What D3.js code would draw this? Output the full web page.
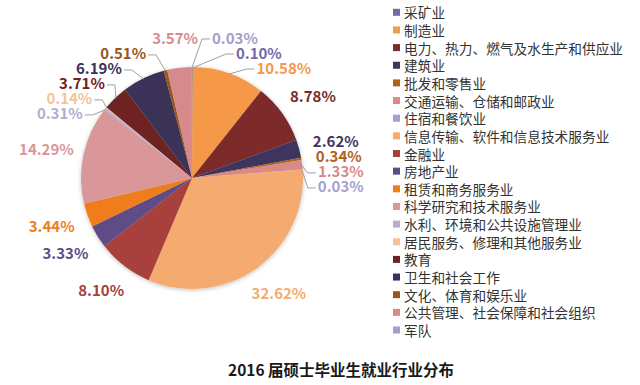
<!DOCTYPE html>
<html lang="zh">
<head>
<meta charset="UTF-8">
<title>2016 届硕士毕业生就业行业分布</title>
<script src="https://d3js.org/d3.v7.min.js"></script>
<style>
  html, body { margin: 0; padding: 0; background: #fff; }
  svg { display: block; font-family: "Noto Sans CJK SC", "Noto Sans", sans-serif; }
  .legend text { font-size: 13.7px; fill: #333; }
  .lbl { font-size: 15px; font-weight: bold; }
  .lead { fill: none; stroke: #a0a0a0; stroke-width: 1; }
</style>
</head>
<body>
<script>
// 行业分类（图例顺序 = 扇区顺时针顺序，从12点方向开始）
var industries = [
  "采矿业", "制造业", "电力、热力、燃气及水生产和供应业", "建筑业", "批发和零售业",
  "交通运输、仓储和邮政业", "住宿和餐饮业", "信息传输、软件和信息技术服务业", "金融业", "房地产业",
  "租赁和商务服务业", "科学研究和技术服务业", "水利、环境和公共设施管理业", "居民服务、修理和其他服务业", "教育",
  "卫生和社会工作", "文化、体育和娱乐业", "公共管理、社会保障和社会组织", "军队"
];
var shares = [0.10, 10.58, 8.78, 2.62, 0.34, 1.33, 0.03, 32.62, 8.10, 3.33,
              3.44, 14.29, 0.31, 0.14, 3.71, 6.19, 0.51, 3.57, 0.03];
var colors = ["#7868a6", "#f5994a", "#7b2b2a", "#3e3660", "#b0621c",
              "#d98a86", "#a99fcb", "#f5ab70", "#a8403c", "#5e4c86",
              "#f07d1b", "#d9979a", "#b4acd2", "#f3c49a", "#6e2323",
              "#3a3258", "#9a561a", "#d68a8c", "#a69ec6"];
var title = "2016 届硕士毕业生就业行业分布";

var width = 640, height = 385;
var cx = 192, cy = 178, r = 111;

var svg = d3.select("body").append("svg")
    .attr("width", width)
    .attr("height", height);

var defs = svg.append("defs");
var f = defs.append("filter").attr("id", "shadow")
    .attr("x", "-10%").attr("y", "-10%").attr("width", "120%").attr("height", "120%");
f.append("feDropShadow").attr("dx", 0).attr("dy", 1).attr("stdDeviation", 2)
    .attr("flood-color", "#000").attr("flood-opacity", 0.25);

var data = industries.map(function(name, i) {
    return { name: name, v: shares[i], color: colors[i] };
});

var pie = d3.pie().sort(null).value(function(d) { return d.v; });
var arc = d3.arc().innerRadius(0).outerRadius(r);
var arcs = pie(data);

var g = svg.append("g").attr("transform", "translate(" + cx + "," + cy + ")");
g.append("g").attr("filter", "url(#shadow)")
  .selectAll("path")
  .data(arcs)
  .enter().append("path")
    .attr("d", arc)
    .attr("fill", function(d) { return d.data.color; });

// 数据标签：按角度放在椭圆上，重叠时向下推并加引导线
var Rx = r + 38, Ry = r + 30, gap = 15, topY = 37;
var labels = arcs.map(function(d) {
    var a = (d.startAngle + d.endAngle) / 2;
    var right = a < Math.PI || a > 2 * Math.PI - 0.03;
    return {
        d: d, a: a, right: right,
        key: right ? (a > Math.PI ? a - 2 * Math.PI : a) : -a,
        x0: Math.sin(a) * Rx, y0: -Math.cos(a) * Ry,
        text: d.data.v.toFixed(2) + "%"
    };
});

[true, false].forEach(function(side) {
    var list = labels.filter(function(l) { return l.right === side; })
        .sort(function(a, b) { return a.key - b.key; });
    var prev = -Infinity;
    list.forEach(function(l) {
        l.y = Math.max(l.y0, topY - cy, prev + gap);
        l.moved = l.y - l.y0 > 3;
        if (l.moved) {
            var k = Math.sqrt(Math.max(0, 1 - (l.y / Ry) * (l.y / Ry)));
            l.x = (side ? 1 : -1) * Rx * k;
        } else {
            l.x = l.x0;
        }
        prev = l.y;
    });
});

var lg = g.append("g");
labels.forEach(function(l) {
    var t = lg.append("text")
        .attr("class", "lbl")
        .attr("fill", l.d.data.color)
        .attr("dominant-baseline", "central")
        .text(l.text);
    l.w = t.node().getComputedTextLength();
    if (l.right) l.x = Math.max(l.x, 20 + l.w / 2);
    t.attr("x", l.x).attr("text-anchor", "middle").attr("y", l.y);
});

labels.filter(function(l) { return l.moved || Math.abs(l.x - l.x0) > 20; }).forEach(function(l) {
    var s = l.right ? 1 : -1;
    var p0 = [Math.sin(l.a) * (r - 1), -Math.cos(l.a) * (r - 1)];
    var ex = l.x - s * (l.w / 2 + 2);
    var pts = [p0, [ex - s * 8, l.y + 2], [ex, l.y + 2]];
    lg.insert("path", "text")
        .attr("class", "lead")
        .attr("d", d3.line()(pts));
});

// 图例
var legend = svg.append("g").attr("class", "legend")
    .attr("transform", "translate(393,12.3)");
var item = legend.selectAll("g")
    .data(data)
    .enter().append("g")
    .attr("transform", function(d, i) { return "translate(0," + (i * 17.65) + ")"; });
item.append("rect")
    .attr("x", 0).attr("y", -3.5)
    .attr("width", 7).attr("height", 7)
    .attr("fill", function(d) { return d.color; });
item.append("text")
    .attr("x", 11)
    .attr("dominant-baseline", "central")
    .text(function(d) { return d.name; });

// 标题
svg.append("text")
    .attr("x", 228).attr("y", 369)
    .attr("dominant-baseline", "central")
    .attr("font-size", "15.5px")
    .attr("font-weight", "bold")
    .attr("fill", "#1a1a1a")
    .text(title);
</script>
</body>
</html>
